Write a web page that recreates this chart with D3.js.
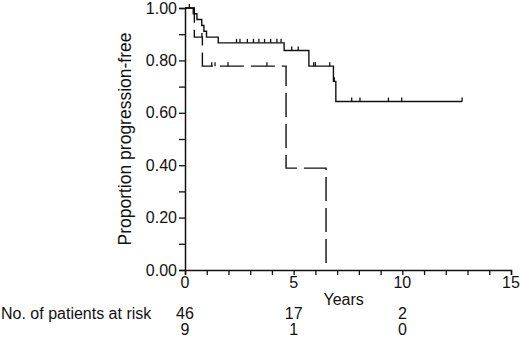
<!DOCTYPE html>
<html lang="en">
<head>
<meta charset="utf-8">
<title>Progression-free survival</title>
<script src="https://d3js.org/d3.v7.min.js"></script>
<style>
  body { margin: 0; background: #fff; }
  text { font-family: "Liberation Sans", Arial, sans-serif; fill: #111; }
</style>
</head>
<body>
<script>
// Data
// Kaplan-Meier steps: [time in years, proportion]
const solidSteps = [[0, 1], [0.38, 0.978], [0.55, 0.956], [0.77, 0.933], [0.87, 0.911], [0.99, 0.889],
  [1.53, 0.867], [4.56, 0.838], [5.7, 0.778], [6.83, 0.72], [6.94, 0.643]];
const solidEnd = 12.75;
const solidCensored = [0.2, 2.37, 2.53, 2.87, 3.15, 3.4, 3.66, 3.94, 4.23, 4.42, 4.91, 5.21,
  5.92, 6.0, 6.66, 6.87, 7.67, 8.05, 9.36, 9.97, 12.75];

const dashedSteps = [[0, 1], [0.43, 0.889], [0.8, 0.778], [4.65, 0.389], [6.49, 0]];
const dashedEnd = 6.49;
const dashedCensored = [0.78, 1.23, 1.38, 1.98, 3.77];

const xTicks = [0, 5, 10, 15];
const yTicks = [0, 0.2, 0.4, 0.6, 0.8, 1.0];
const riskTimes = [0, 5, 10];
const riskSolid = [46, 17, 2];
const riskDashed = [9, 1, 0];

const width = 520, height = 339;
const svg = d3.select("body").append("svg")
  .attr("width", width).attr("height", height);

const x = d3.scaleLinear().domain([0, 15]).range([185, 511]);
const y = d3.scaleLinear().domain([0, 1]).range([270, 8]);

// step value at time t
function valueAt(steps, t) {
  let v = steps[0][1];
  steps.forEach(s => { if (s[0] <= t) v = s[1]; });
  return v;
}

// axes
const yAxis = svg.append("g")
  .attr("transform", "translate(" + x(0) + ",0)")
  .call(d3.axisLeft(y).tickValues(d3.range(0, 1.01, 0.1)).tickSize(6).tickFormat(""));
const xAxis = svg.append("g")
  .attr("transform", "translate(0," + y(0) + ")")
  .call(d3.axisBottom(x).tickValues(d3.range(0, 16, 1)).tickSize(5).tickFormat(""));
[xAxis, yAxis].forEach(a => {
  a.select(".domain").attr("stroke", "#111").attr("stroke-width", 1.5);
  a.selectAll(".tick line").attr("stroke", "#111").attr("stroke-width", 1.3);
});

svg.selectAll("text.ylab").data(yTicks).enter().append("text")
  .attr("class", "ylab")
  .attr("x", 177).attr("y", d => y(d))
  .attr("dy", "0.35em")
  .attr("text-anchor", "end")
  .attr("font-size", 16)
  .text(d => d.toFixed(2));

svg.selectAll("text.xlab").data(xTicks).enter().append("text")
  .attr("class", "xlab")
  .attr("x", d => x(d)).attr("y", 288)
  .attr("text-anchor", "middle")
  .attr("font-size", 16)
  .text(d => d);

svg.append("text")
  .attr("x", x(7.3)).attr("y", 305)
  .attr("text-anchor", "middle")
  .attr("font-size", 16)
  .text("Years");

svg.append("text")
  .attr("transform", "translate(131," + y(0.5) + ") rotate(-90)")
  .attr("text-anchor", "middle")
  .attr("font-size", 17.5)
  .text("Proportion progression-free");

// number at risk
svg.append("text")
  .attr("x", 1).attr("y", 319)
  .attr("font-size", 16)
  .text("No. of patients at risk");
[[riskSolid, 319], [riskDashed, 335]].forEach(([row, yy]) => {
  svg.selectAll(null).data(row).enter().append("text")
    .attr("x", (d, i) => x(riskTimes[i])).attr("y", yy)
    .attr("text-anchor", "middle")
    .attr("font-size", 16)
    .text(d => d);
});

// curves
const line = d3.line().x(d => x(d[0])).y(d => y(d[1])).curve(d3.curveStepAfter);

svg.append("path")
  .datum(solidSteps.concat([[solidEnd, solidSteps[solidSteps.length - 1][1]]]))
  .attr("d", line)
  .attr("fill", "none").attr("stroke", "#111").attr("stroke-width", 1.4);

svg.append("path")
  .datum(dashedSteps.concat([[dashedEnd, dashedSteps[dashedSteps.length - 1][1]]]))
  .attr("d", line)
  .attr("fill", "none").attr("stroke", "#111").attr("stroke-width", 1.4)
  .attr("stroke-dasharray", "24,7");

// censor marks
[[solidSteps, solidCensored], [dashedSteps, dashedCensored]].forEach(([steps, cens]) => {
  svg.selectAll(null).data(cens).enter().append("line")
    .attr("x1", d => x(d)).attr("x2", d => x(d))
    .attr("y1", d => y(valueAt(steps, d)))
    .attr("y2", d => y(valueAt(steps, d)) - 4)
    .attr("stroke", "#111").attr("stroke-width", 1.3);
});
</script>
</body>
</html>
